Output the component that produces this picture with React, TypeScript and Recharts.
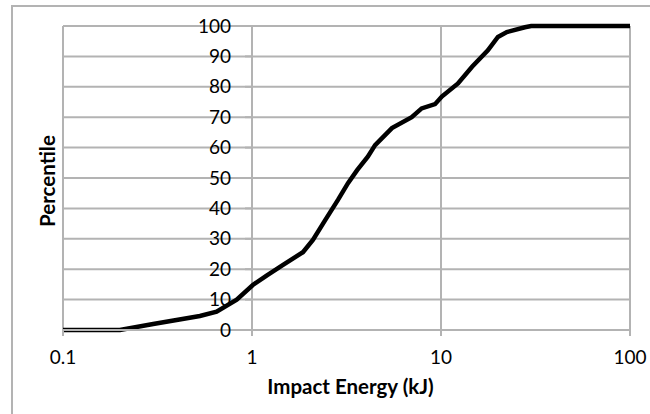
import { CartesianGrid, Line, LineChart, XAxis, YAxis } from 'recharts';

// Cumulative distribution (log x-axis).
const energyKJ = [
  0.1, 0.2, 0.3, 0.53, 0.65, 0.83, 1.01, 1.2, 1.46, 1.86, 2.1, 2.43, 2.85, 3.22, 3.6,
  4.1, 4.48, 5.5, 7.0, 7.9, 9.3, 10.1, 12.3, 14.6, 17.7, 20, 22.3, 27.8, 30, 100,
];
const percentile = [
  0, 0, 2, 4.6, 6, 10, 14.8, 18, 21.4, 25.6, 29.6, 36, 42.8, 48.3, 52.6,
  57, 60.8, 66.4, 70, 72.9, 74.3, 76.8, 81.1, 86.6, 92, 96.4, 98, 99.6, 100, 100,
];
const xTicks = [0.1, 1, 10, 100];
const yTicks = [0, 10, 20, 30, 40, 50, 60, 70, 80, 90, 100];

const WIDTH = 650;
const HEIGHT = 414;
const MARGIN = { top: 26, right: 20, bottom: 0, left: 0 };
const Y_AXIS_WIDTH = 63;
const X_DOMAIN: [number, number] = [0.1, 100];
const Y_CROSS = 1; // value axis crosses the category axis at x = 1

const GRID = '#b3b3b3';
const FONT = 'Lato, "Open Sans", sans-serif';
const TICK_SIZE = 19;
const TITLE_SIZE = 20.5;

const data = energyKJ.map((energy, i) => ({ energy, pct: percentile[i] }));

// horizontal distance from the plot's left edge to x = Y_CROSS
const plotWidth = WIDTH - MARGIN.left - MARGIN.right - Y_AXIS_WIDTH;
const crossOffset =
  (plotWidth * (Math.log10(Y_CROSS) - Math.log10(X_DOMAIN[0]))) /
  (Math.log10(X_DOMAIN[1]) - Math.log10(X_DOMAIN[0]));

function CrossingTick(props: any) {
  const { x, y, payload } = props;
  const ax = x + crossOffset;
  return (
    <g>
      <line x1={ax - 7} x2={ax} y1={y} y2={y} stroke={GRID} strokeWidth={2} />
      <text
        x={ax - 21}
        y={y}
        dy="0.35em"
        textAnchor="end"
        fill="#000"
        fontSize={TICK_SIZE}
        fontFamily={FONT}
      >
        {payload.value}
      </text>
    </g>
  );
}

function PercentileLabel(props: any) {
  const { viewBox } = props;
  const cx = viewBox.x + 47;
  const cy = viewBox.y + viewBox.height / 2 + 3;
  return (
    <text
      x={cx}
      y={cy}
      transform={`rotate(-90, ${cx}, ${cy})`}
      textAnchor="middle"
      dominantBaseline="central"
      fontSize={TITLE_SIZE}
      fontWeight="bold"
      fontFamily={FONT}
      fill="#000"
    >
      Percentile
    </text>
  );
}

export default function App() {
  return (
    <div
      style={{
        position: 'absolute',
        left: 0,
        top: 0,
        width: WIDTH,
        height: HEIGHT,
        overflow: 'hidden',
        background: '#fff',
      }}
    >
      <div
        style={{
          position: 'absolute',
          left: 11,
          top: 5,
          width: 700,
          height: 500,
          border: `2px solid ${GRID}`,
        }}
      />
      <div style={{ position: 'absolute', left: 0, top: 0 }}>
        <LineChart width={WIDTH} height={HEIGHT} data={data} margin={MARGIN}>
          <CartesianGrid stroke={GRID} strokeWidth={2} />
          <XAxis
            dataKey="energy"
            type="number"
            scale="log"
            domain={X_DOMAIN}
            ticks={xTicks}
            allowDataOverflow
            height={84}
            axisLine={{ stroke: GRID, strokeWidth: 2 }}
            tickLine={{ stroke: GRID, strokeWidth: 2 }}
            tickSize={6}
            tickMargin={15}
            tick={{ fill: '#000', fontSize: TICK_SIZE, fontFamily: FONT }}
            label={{
              value: 'Impact Energy (kJ)',
              position: 'insideBottom',
              offset: 20,
              dx: 4,
              fill: '#000',
              fontSize: TITLE_SIZE,
              fontWeight: 'bold',
              fontFamily: FONT,
            }}
          />
          <YAxis
            type="number"
            domain={[0, 100]}
            ticks={yTicks}
            width={Y_AXIS_WIDTH}
            axisLine={false}
            tickLine={false}
            tickSize={0}
            tickMargin={0}
            tick={<CrossingTick />}
            label={{ content: <PercentileLabel /> }}
          />
          <Line
            dataKey="pct"
            type="linear"
            stroke="#000"
            strokeWidth={4.5}
            dot={false}
            isAnimationActive={false}
          />
        </LineChart>
      </div>
    </div>
  );
}
